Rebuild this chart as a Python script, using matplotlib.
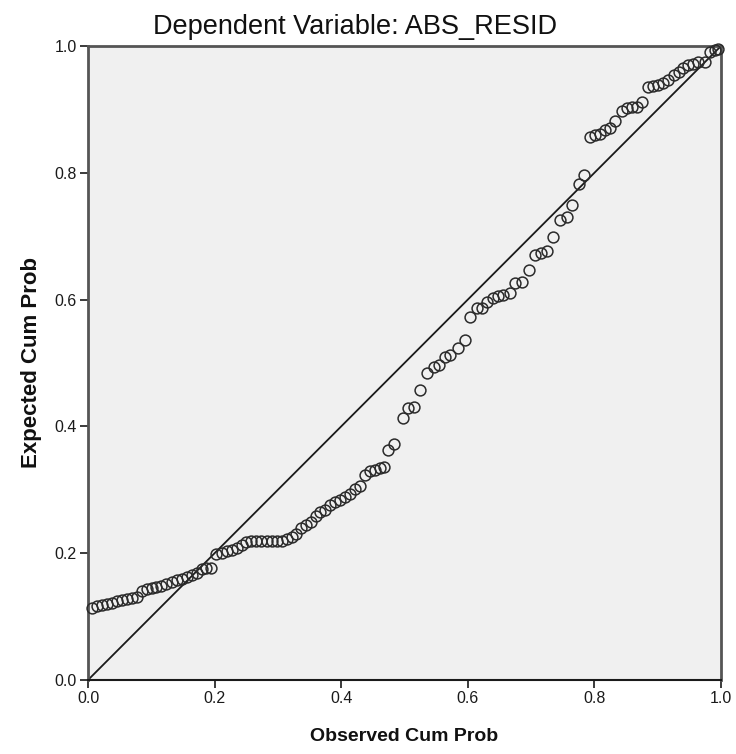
import matplotlib
matplotlib.use("Agg")
import matplotlib.pyplot as plt

title = "Dependent Variable: ABS_RESID"
x_label = "Observed Cum Prob"
y_label = "Expected Cum Prob"
tick_vals = [0.0, 0.2, 0.4, 0.6, 0.8, 1.0]
tick_labels = ["0.0", "0.2", "0.4", "0.6", "0.8", "1.0"]

observed = [0.006, 0.014, 0.022, 0.030, 0.038, 0.046, 0.054, 0.062, 0.070, 0.077,
            0.085, 0.093, 0.101, 0.108, 0.116, 0.124, 0.132, 0.140, 0.148, 0.156,
            0.164, 0.172, 0.180, 0.187, 0.195, 0.203, 0.211, 0.219, 0.227, 0.235,
            0.243, 0.250, 0.258, 0.266, 0.274, 0.282, 0.290, 0.298, 0.306, 0.314,
            0.322, 0.329, 0.337, 0.345, 0.352, 0.360, 0.367, 0.375, 0.383, 0.390,
            0.398, 0.406, 0.414, 0.422, 0.430, 0.438, 0.445, 0.453, 0.461, 0.467,
            0.474, 0.484, 0.497, 0.506, 0.515, 0.524, 0.535, 0.546, 0.555, 0.564,
            0.572, 0.585, 0.596, 0.603, 0.614, 0.622, 0.631, 0.640, 0.648, 0.656,
            0.667, 0.675, 0.685, 0.696, 0.706, 0.716, 0.725, 0.735, 0.746, 0.756,
            0.765, 0.775, 0.784, 0.793, 0.801, 0.809, 0.817, 0.825, 0.833, 0.843,
            0.851, 0.859, 0.867, 0.875, 0.885, 0.893, 0.901, 0.909, 0.917, 0.925,
            0.933, 0.940, 0.948, 0.956, 0.964, 0.975, 0.983, 0.991, 0.996]

expected = [0.113, 0.116, 0.118, 0.120, 0.122, 0.125, 0.126, 0.128, 0.129, 0.131,
            0.141, 0.143, 0.145, 0.146, 0.148, 0.152, 0.155, 0.158, 0.160, 0.162,
            0.165, 0.169, 0.175, 0.176, 0.177, 0.199, 0.201, 0.203, 0.205, 0.208,
            0.213, 0.218, 0.219, 0.219, 0.219, 0.219, 0.219, 0.219, 0.220, 0.222,
            0.225, 0.230, 0.239, 0.244, 0.250, 0.258, 0.265, 0.268, 0.276, 0.281,
            0.284, 0.289, 0.294, 0.302, 0.306, 0.323, 0.329, 0.332, 0.335, 0.336,
            0.363, 0.372, 0.414, 0.429, 0.431, 0.457, 0.484, 0.494, 0.497, 0.510,
            0.513, 0.523, 0.536, 0.573, 0.586, 0.586, 0.597, 0.602, 0.605, 0.607,
            0.610, 0.626, 0.628, 0.647, 0.670, 0.673, 0.677, 0.699, 0.726, 0.731,
            0.750, 0.783, 0.797, 0.857, 0.859, 0.861, 0.868, 0.870, 0.882, 0.898,
            0.902, 0.904, 0.904, 0.911, 0.936, 0.937, 0.938, 0.941, 0.946, 0.954,
            0.959, 0.965, 0.970, 0.972, 0.974, 0.975, 0.991, 0.994, 0.995]

ref_line = [0.0, 1.0]

plt.rcParams['font.family'] = ['Liberation Sans', 'DejaVu Sans']

fig = plt.figure(figsize=(7.36, 7.54), dpi=100)
ax = fig.add_axes([88/736, 1 - 680/754, 633/736, 634/754])
ax.set_facecolor('#f0f0f0')

ax.plot(ref_line, ref_line, color='#1a1a1a', lw=1.3, zorder=2)
ax.plot(observed, expected, linestyle='none', marker='o', markersize=7.8,
        markerfacecolor='none', markeredgecolor='#2b2b2b', markeredgewidth=1.1,
        zorder=3, clip_on=False)

ax.set_xlim(0, 1)
ax.set_ylim(0, 1)
ax.set_xticks(tick_vals)
ax.set_xticklabels(tick_labels)
ax.set_yticks(tick_vals)
ax.set_yticklabels(tick_labels)
ax.tick_params(axis='both', direction='out', length=6, width=1.2,
               color='#1a1a1a', labelsize=11.5, labelcolor='#1a1a1a', pad=2)

for side in ['top', 'right', 'left']:
    ax.spines[side].set_color('#555555')
    ax.spines[side].set_linewidth(2.0)
ax.spines['bottom'].set_color('#1a1a1a')
ax.spines['bottom'].set_linewidth(1.5)

fig.text(355/736, 1 - 27/754, title, fontsize=19.5, color='#111111',
         ha='center', va='center')
ax.set_xlabel(x_label, fontsize=14, fontweight='bold', color='#111111', labelpad=16)
ax.set_ylabel(y_label, fontsize=16, fontweight='bold', color='#111111', labelpad=9)

fig.savefig('out.png', dpi=100, facecolor='white')
